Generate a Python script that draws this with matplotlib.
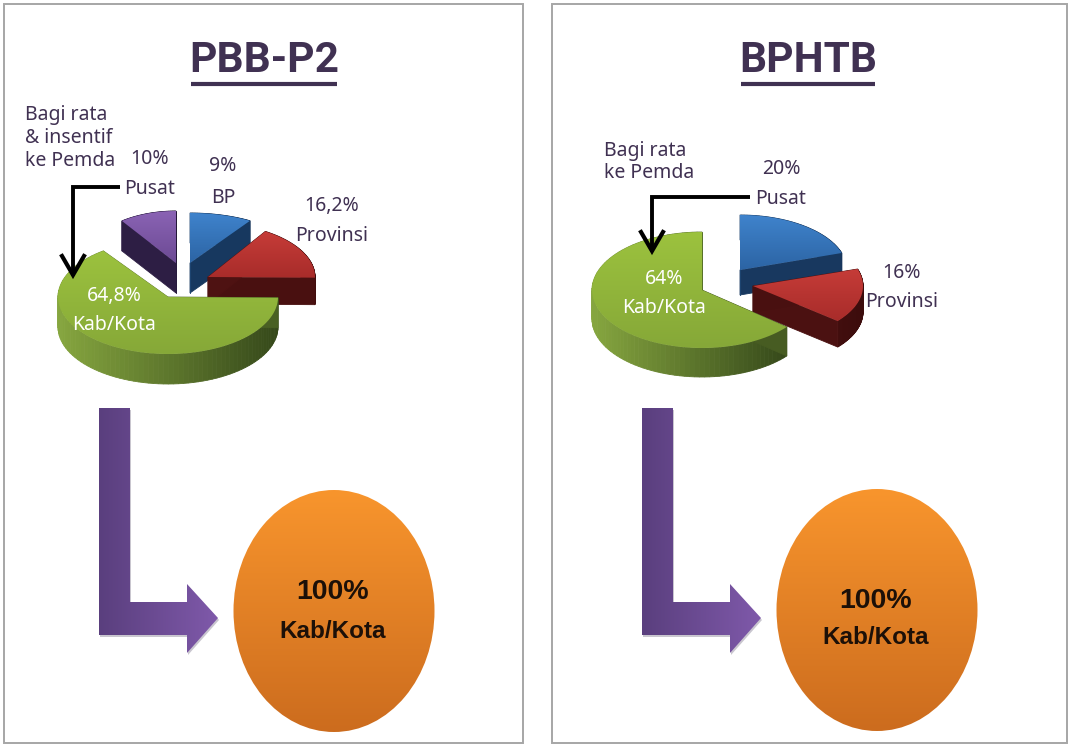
#!/usr/bin/env python3

import matplotlib
matplotlib.use("Agg")
import matplotlib.pyplot as plt
import numpy as np
from matplotlib.colors import to_rgb
from matplotlib.patches import Ellipse, Polygon, Rectangle


TITLES = ["PBB-P2", "BPHTB"]

LEFT_NAMES = ["BP", "Provinsi", "Kab/Kota", "Pusat"]
LEFT_SHARES = [9.0, 16.2, 64.8, 10.0]
LEFT_LABELS = ["9%", "16,2%", "64,8%", "10%"]

RIGHT_NAMES = ["Pusat", "Provinsi", "Kab/Kota"]
RIGHT_SHARES = [20.0, 16.0, 64.0]
RIGHT_LABELS = ["20%", "16%", "64%"]

NOTE_LEFT = "Bagi rata\n& insentif\nke Pemda"
NOTE_RIGHT = "Bagi rata\nke Pemda"
RESULT_VALUE = "100%"
RESULT_NAME = "Kab/Kota"

PURPLE_TEXT = "#403152"
BLUE = ("#3f83cc", "#2c64a4", "#1d4470", "#122c4e")
RED = ("#c63c38", "#a82c2a", "#551414", "#3c0c0c")
GREEN = ("#9cc23e", "#86a838", "#86a63f", "#35481a")
VIOLET = ("#8a63b4", "#6c4a94", "#352450", "#241838")


def gradient(ax, clip, box, c0, c1, vertical=True, zorder=3):
    x0, x1, y0, y1 = box
    t = np.linspace(0, 1, 128)
    rgb = np.outer(1 - t, to_rgb(c0)) + np.outer(t, to_rgb(c1))
    img = rgb[:, None, :] if vertical else rgb[None, :, :]
    im = ax.imshow(img, extent=(x0, x1, y1, y0), aspect="auto", zorder=zorder, interpolation="bilinear")
    clip.set_transform(ax.transData)
    im.set_clip_path(clip)


def draw_slice(ax, cx, cy, a, b, depth, start, sweep, colors):
    t = np.radians(np.linspace(start, start - sweep, 90))
    x = np.r_[cx + a * np.cos(t), cx]
    y = np.r_[cy - b * np.sin(t), cy]
    xmin, xmax = x.min(), x.max()
    for i in range(len(x)):
        j = (i + 1) % len(x)
        f = (0.5 * (x[i] + x[j]) - xmin) / (xmax - xmin)
        col = (1 - f) * np.array(to_rgb(colors[2])) + f * np.array(to_rgb(colors[3]))
        quad = [(x[i], y[i]), (x[j], y[j]), (x[j], y[j] + depth), (x[i], y[i] + depth)]
        ax.add_patch(Polygon(quad, closed=True, fc=col, ec=col, lw=0.6, zorder=3))
    top = Polygon(np.c_[x, y], closed=True)
    gradient(ax, top, (xmin, xmax, y.min(), y.max()), colors[0], colors[1])


def draw_pie(ax, shares, geometry, colors):
    # shares run clockwise from twelve o'clock, each slice has its own apex
    angle = 90.0
    order = []
    for share, geo, col in zip(shares, geometry, colors):
        sweep = share * 3.6
        order.append((geo, angle, sweep, col))
        angle -= sweep
    for geo, start, sweep, col in sorted(order, key=lambda o: o[0][5]):
        draw_slice(ax, geo[0], geo[1], geo[2], geo[3], geo[4], start, sweep, col)


def draw_bend_arrow(ax, dx):
    pts = [(99 + dx, 408), (130 + dx, 408), (130 + dx, 602), (187 + dx, 602), (187 + dx, 584),
           (218 + dx, 618), (187 + dx, 653), (187 + dx, 635), (99 + dx, 635)]
    shadow = Polygon([(px + 1, py + 2) for px, py in pts], closed=True, fc="#c9c6cf", ec="none", zorder=2)
    ax.add_patch(shadow)
    gradient(ax, Polygon(pts, closed=True), (99 + dx, 218 + dx, 408, 653), "#5a3f7e", "#7f59aa", vertical=False)


def draw_result(ax, cx, cy, value_y, name_y):
    gradient(
        ax,
        Ellipse((cx, cy), 201, 242),
        (cx - 101, cx + 101, cy - 121, cy + 121),
        "#f8952d",
        "#cc6c1e",
    )
    ax.text(cx - 1, value_y, RESULT_VALUE, ha="center", va="center", fontsize=20.5, fontweight="bold",
            family="Liberation Sans", color="#1c1008", zorder=5)
    ax.text(cx - 1, name_y, RESULT_NAME, ha="center", va="center", fontsize=17.5, fontweight="bold",
            family="Liberation Sans", color="#1c1008", zorder=5)


def draw_elbow(ax, pts):
    xs, ys = zip(*pts)
    ax.plot(xs, ys, color="black", lw=2.8, solid_joinstyle="miter", solid_capstyle="butt", zorder=4)
    tx, ty = pts[-1]
    ax.plot([tx - 11, tx, tx + 11], [ty - 20, ty - 1, ty - 20], color="black", lw=3,
            solid_joinstyle="miter", zorder=4)


def label(ax, x, y, text, color=PURPLE_TEXT, size=14, ha="center"):
    ax.text(x, y + 1, text, ha=ha, va="center", fontsize=size, family="Noto Sans", color=color, zorder=6,
            linespacing=1.17)


def main():
    fig = plt.figure(figsize=(10.8, 7.49), dpi=100)
    ax = fig.add_axes([0, 0, 1, 1])
    ax.axis("off")

    for x0, x1 in [(4, 523), (552, 1067)]:
        ax.add_patch(Rectangle((x0, 4), x1 - x0, 739, fc="white", ec="#a6a6a6", lw=1.4, zorder=1))

    for title, cx, half in zip(TITLES, [264, 808], [73, 67]):
        ax.text(cx, 61, title, ha="center", va="center", fontsize=30.5, fontweight="bold",
                family="Roboto", color=PURPLE_TEXT, zorder=6)
        ax.plot([cx - half, cx + half], [84, 84], color=PURPLE_TEXT, lw=3, solid_capstyle="butt", zorder=6)

    # apex x, apex y, radius x, radius y, depth, draw order
    left_geo = [
        (190, 263, 112, 50, 30, 1),
        (208, 277, 107, 54, 27, 2),
        (168, 297, 110, 57, 30, 3),
        (176, 263, 92, 52, 30, 0),
    ]
    right_geo = [
        (740, 270, 107, 55, 25, 0),
        (753, 286, 110, 55, 26, 1),
        (702, 290, 110, 58, 29, 2),
    ]
    draw_pie(ax, LEFT_SHARES, left_geo, [BLUE, RED, GREEN, VIOLET])
    draw_pie(ax, RIGHT_SHARES, right_geo, [BLUE, RED, GREEN])

    draw_elbow(ax, [(120, 187), (73, 187), (73, 276)])
    draw_elbow(ax, [(750, 197), (652, 197), (652, 252)])

    label(ax, 25, 137, NOTE_LEFT, ha="left")
    label(ax, 604, 161, NOTE_RIGHT, ha="left")

    left_pos = [(223, 165, 197), (332, 205, 235), (114, 295, 324), (150, 158, 188)]
    for name, text, (x, y0, y1) in zip(LEFT_NAMES, LEFT_LABELS, left_pos):
        col = "white" if name == "Kab/Kota" else PURPLE_TEXT
        label(ax, x, y0, text, color=col)
        label(ax, x, y1, name, color=col)

    right_pos = [(781, 168, 198), (902, 272, 301), (664, 278, 307)]
    for name, text, (x, y0, y1) in zip(RIGHT_NAMES, RIGHT_LABELS, right_pos):
        col = "white" if name == "Kab/Kota" else PURPLE_TEXT
        label(ax, x, y0, text, color=col)
        label(ax, x, y1, name, color=col)

    draw_bend_arrow(ax, 0)
    draw_bend_arrow(ax, 543)
    draw_result(ax, 334, 611, 592, 632)
    draw_result(ax, 877, 610, 601, 637)

    ax.set_xlim(0, 1080)
    ax.set_ylim(749, 0)
    fig.savefig("out.png", dpi=100, facecolor="white")


if __name__ == "__main__":
    main()
